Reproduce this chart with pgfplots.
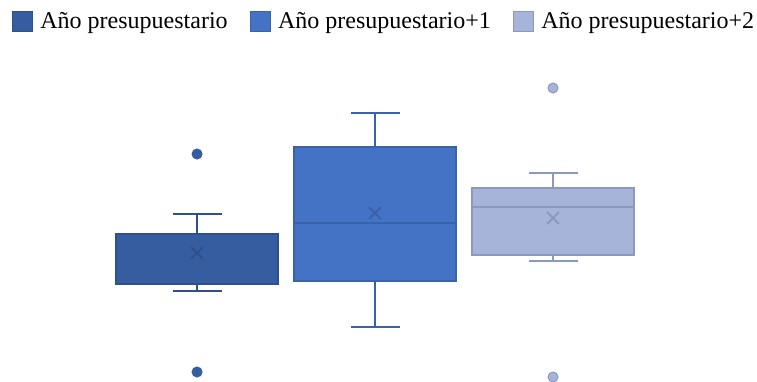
\documentclass[border=0pt]{standalone}
\usepackage{fontspec}
\setmainfont{Liberation Serif}
\usepackage{pgfplots}
\pgfplotsset{compat=1.18}
\usepgfplotslibrary{statistics}

\definecolor{bA}{HTML}{355D9F}
\definecolor{bAd}{HTML}{2E508C}
\definecolor{bB}{HTML}{4472C4}
\definecolor{bBd}{HTML}{3A62A8}
\definecolor{bC}{HTML}{A6B4D9}
\definecolor{bCd}{HTML}{8C99BF}

\begin{document}
\begin{tikzpicture}
\begin{axis}[
  scale only axis, width=378.5pt, height=190.5pt,
  xmin=-0.107, xmax=4.146, ymin=0, ymax=38.1,
  hide axis, clip marker paths=true,
  boxplot/draw direction=y,
  boxplot/box extend=0.91,
  boxplot/whisker extend=0.275,
  legend columns=3,
  legend style={draw=none, fill=none, inner sep=0pt, outer sep=0pt,
    at={(axis description cs:0,1)}, anchor=north west,
    xshift=6pt, yshift=-4pt,
    font=\fontsize{12}{14}\selectfont,
    /tikz/every odd column/.append style={column sep=1.7pt},
    /tikz/every even column/.append style={column sep=9pt}},
]
% Año presupuestario
\addplot[boxplot prepared={draw position=1,
    lower whisker=9.0, lower quartile=9.7, median=9.7,
    upper quartile=14.7, upper whisker=16.7, average=12.8},
  draw=bAd, fill=bA, line width=1pt,
  mark=*, mark size=2.5pt, mark options={fill=bA, draw=bA, line width=0.5pt},
  boxplot/every average/.style={/tikz/mark=x, /tikz/mark size=4.2pt, draw=bAd, line width=0.8pt},
  legend image code/.code={\draw[draw=bAd, fill=bA, line width=0.5pt] (0pt,-5pt) rectangle (10pt,5pt);}
] table[row sep=\\, y index=0] {22.7\\ 0.9\\};
\addlegendentry{Año presupuestario}
% Año presupuestario+1
\addplot[boxplot prepared={draw position=2,
    lower whisker=5.4, lower quartile=10.0, median=15.8,
    upper quartile=23.4, upper whisker=26.8, average=16.8},
  draw=bBd, fill=bB, line width=1pt,
  mark=*, mark size=2.5pt, mark options={fill=bB, draw=bB, line width=0.5pt},
  boxplot/every average/.style={/tikz/mark=x, /tikz/mark size=4.2pt, draw=bBd, line width=0.8pt},
  legend image code/.code={\draw[draw=bBd, fill=bB, line width=0.5pt] (0pt,-5pt) rectangle (10pt,5pt);}
] coordinates {};
\addlegendentry{Año presupuestario+1}
% Año presupuestario+2
\addplot[boxplot prepared={draw position=3,
    lower whisker=12.0, lower quartile=12.6, median=17.4,
    upper quartile=19.3, upper whisker=20.8, average=16.3},
  draw=bCd, fill=bC, line width=1pt,
  mark=*, mark size=2.5pt, mark options={fill=bC, draw=bCd, line width=0.5pt},
  boxplot/every average/.style={/tikz/mark=x, /tikz/mark size=4.2pt, draw=bCd, line width=0.8pt},
  legend image code/.code={\draw[draw=bCd, fill=bC, line width=0.5pt] (0pt,-5pt) rectangle (10pt,5pt);}
] table[row sep=\\, y index=0] {29.3\\ 0.4\\};
\addlegendentry{Año presupuestario+2}
\end{axis}
\pgfresetboundingbox
\useasboundingbox (current axis.south west) rectangle (current axis.north east);
\end{tikzpicture}
\end{document}
